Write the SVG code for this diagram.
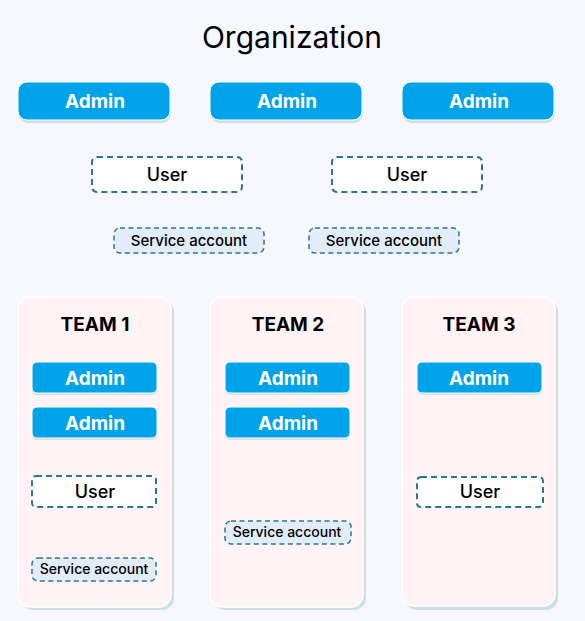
<svg xmlns="http://www.w3.org/2000/svg" width="585" height="621" viewBox="0 0 585 621">
<style>
.bg{fill:#f7f7ff}
.shadow{fill:#cde0e4}
.admin{fill:#00a3e9;stroke:#ffffff;stroke-width:1}
.user{fill:#ffffff;stroke:#2b7597;stroke-width:2;stroke-dasharray:6 4}
.sa{fill:#e3ecf9;stroke:#2b7597;stroke-width:1.5;stroke-dasharray:5 3.5}
.team{fill:#fff3f5;stroke:#ffffff;stroke-width:1.5}
.ta{font-family:Inter,"Noto Sans",sans-serif;font-weight:700;fill:#ffffff;font-size:19px;text-anchor:middle}
.tu{font-family:Inter,"Noto Sans",sans-serif;font-weight:500;fill:#000000;font-size:18px;text-anchor:middle}
.ts{font-family:Inter,"Noto Sans",sans-serif;font-weight:500;fill:#000000;font-size:14px;text-anchor:middle}
.ts2{font-family:Inter,"Noto Sans",sans-serif;font-weight:500;fill:#000000;font-size:15px;text-anchor:middle}
.tt{font-family:Inter,"Noto Sans",sans-serif;font-weight:700;fill:#000000;font-size:19px;text-anchor:middle}
.title{font-family:Inter,"Noto Sans",sans-serif;font-weight:400;fill:#000000;font-size:30px;text-anchor:middle}
</style>
<rect class="bg" x="0" y="0" width="585" height="621"/>
<text class="title" x="292" y="48">Organization</text>
<g id="org-admin-1"><rect class="shadow" x="19" y="85" width="152" height="38" rx="9"/><rect class="admin" x="18" y="82" width="152" height="38" rx="9"/><text class="ta" x="95" y="108">Admin</text></g>
<g id="org-admin-2"><rect class="shadow" x="211" y="85" width="152" height="38" rx="9"/><rect class="admin" x="210" y="82" width="152" height="38" rx="9"/><text class="ta" x="287" y="108">Admin</text></g>
<g id="org-admin-3"><rect class="shadow" x="403" y="85" width="152" height="38" rx="9"/><rect class="admin" x="402" y="82" width="152" height="38" rx="9"/><text class="ta" x="479" y="108">Admin</text></g>
<g id="org-user-1"><rect class="user" x="92" y="157" width="150" height="35" rx="5"/><text class="tu" x="167" y="181">User</text></g>
<g id="org-user-2"><rect class="user" x="332" y="157" width="150" height="35" rx="5"/><text class="tu" x="407" y="181">User</text></g>
<g id="org-sa-1"><rect class="sa" x="114" y="228" width="150" height="25" rx="6"/><text class="ts2" x="189" y="246">Service account</text></g>
<g id="org-sa-2"><rect class="sa" x="309" y="228" width="150" height="25" rx="6"/><text class="ts2" x="384" y="246">Service account</text></g>
<g id="team-1">
<rect class="shadow" x="21" y="300" width="153" height="310" rx="12"/>
<rect class="team" x="18" y="297" width="153" height="310" rx="12"/>
<text class="tt" x="95" y="331">TEAM 1</text>
<rect class="shadow" x="32" y="364" width="125" height="31" rx="5"/><rect class="admin" x="32" y="362" width="125" height="31" rx="5"/><text class="ta" x="95" y="385">Admin</text>
<rect class="shadow" x="32" y="409" width="125" height="31" rx="5"/><rect class="admin" x="32" y="407" width="125" height="31" rx="5"/><text class="ta" x="95" y="430">Admin</text>
<rect class="user" x="32" y="476" width="124" height="31" rx="4"/><text class="tu" x="95" y="498">User</text>
<rect class="sa" x="32" y="558" width="124" height="23" rx="6"/><text class="ts" x="94" y="574">Service account</text>
</g>
<g id="team-2">
<rect class="shadow" x="213" y="300" width="153" height="310" rx="12"/>
<rect class="team" x="210" y="297" width="153" height="310" rx="12"/>
<text class="tt" x="288" y="331">TEAM 2</text>
<rect class="shadow" x="225" y="364" width="125" height="31" rx="5"/><rect class="admin" x="225" y="362" width="125" height="31" rx="5"/><text class="ta" x="288" y="385">Admin</text>
<rect class="shadow" x="225" y="409" width="125" height="31" rx="5"/><rect class="admin" x="225" y="407" width="125" height="31" rx="5"/><text class="ta" x="288" y="430">Admin</text>
<rect class="sa" x="225" y="521" width="126" height="23" rx="6"/><text class="ts" x="287" y="537">Service account</text>
</g>
<g id="team-3">
<rect class="shadow" x="405" y="300" width="153" height="310" rx="12"/>
<rect class="team" x="402" y="297" width="153" height="309" rx="12"/>
<text class="tt" x="479" y="331">TEAM 3</text>
<rect class="shadow" x="417" y="364" width="125" height="31" rx="5"/><rect class="admin" x="417" y="362" width="125" height="31" rx="5"/><text class="ta" x="479" y="385">Admin</text>
<rect class="user" x="417" y="477" width="126" height="30" rx="4"/><text class="tu" x="480" y="498">User</text>
</g>
<g id="connectors"></g>
</svg>
